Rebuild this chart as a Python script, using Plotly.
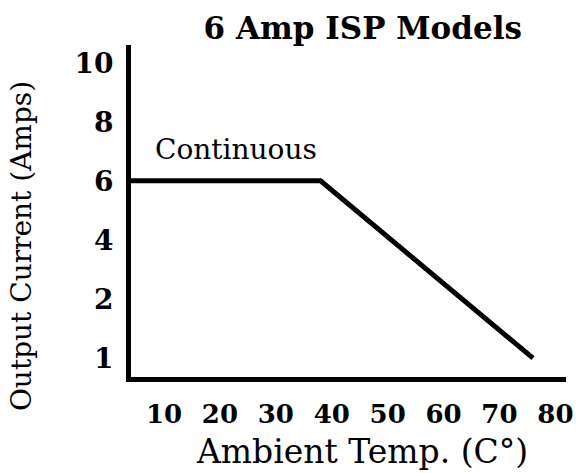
import plotly.graph_objects as go

# ---- data ----
temp_c = [0, 38, 76]                       # ambient temperature (°C)
current_a = ["6", "6", "1"]                # output current (A), categorical y scale
y_categories = ["1", "2", "4", "6", "8", "10"]
x_tick_values = [10, 20, 30, 40, 50, 60, 70, 80]
x_tick_labels = ["10", "20", "30", "40", "50", "60", "70", "80"]

title_text = "6 Amp ISP Models"
x_title = "Ambient Temp. (C°)"
y_title = "Output Current (Amps)"
label_text = "Continuous"

FONT = "DejaVu Serif"

fig = go.Figure()
fig.add_trace(go.Scatter(
    x=temp_c, y=current_a, mode="lines",
    line=dict(color="black", width=5),
    hoverinfo="skip", showlegend=False,
))

fig.update_layout(
    width=587, height=473,
    margin=dict(l=131, r=21, t=45, b=96),
    paper_bgcolor="white", plot_bgcolor="white",
    showlegend=False,
    title=dict(
        text=title_text, x=0.618, xref="container", xanchor="center",
        y=1 - 28 / 473, yref="container", yanchor="middle",
        font=dict(family=FONT, size=31, color="black", weight="bold"),
    ),
    font=dict(family=FONT, color="black"),
)

fig.update_xaxes(
    type="linear", range=[4.1, 81.9],
    tickmode="array", tickvals=x_tick_values, ticktext=x_tick_labels,
    showgrid=False, zeroline=False,
    showline=True, linecolor="black", linewidth=5,
    ticks="", ticklabelstandoff=10,
    tickfont=dict(family=FONT, size=26, color="black", weight="bold"),
)
fig.update_yaxes(
    type="category", categoryorder="array", categoryarray=y_categories,
    range=[-0.32, 5.3],
    showgrid=False, zeroline=False,
    showline=True, linecolor="black", linewidth=5,
    ticks="", ticklabelstandoff=7,
    tickfont=dict(family=FONT, size=28, color="black", weight="bold"),
)

fig.add_annotation(
    text=x_title, xref="paper", yref="paper", x=0.531, y=-0.225,
    xanchor="center", yanchor="middle", showarrow=False,
    font=dict(family=FONT, size=33, color="black"),
)
fig.add_annotation(
    text=y_title, xref="paper", yref="paper", x=-0.25, y=0.395,
    xanchor="center", yanchor="middle", textangle=-90, showarrow=False,
    font=dict(family=FONT, size=28, color="black"),
)
fig.add_annotation(
    text=label_text, xref="x", yref="y", x=8, y=y_categories.index("6"),
    xanchor="left", yanchor="middle", yshift=31, showarrow=False,
    font=dict(family=FONT, size=28, color="black"),
)

fig.write_html(
    "out.html",
    config={"displayModeBar": False, "staticPlot": True},
    post_script="document.body.style.margin='0';",
)
